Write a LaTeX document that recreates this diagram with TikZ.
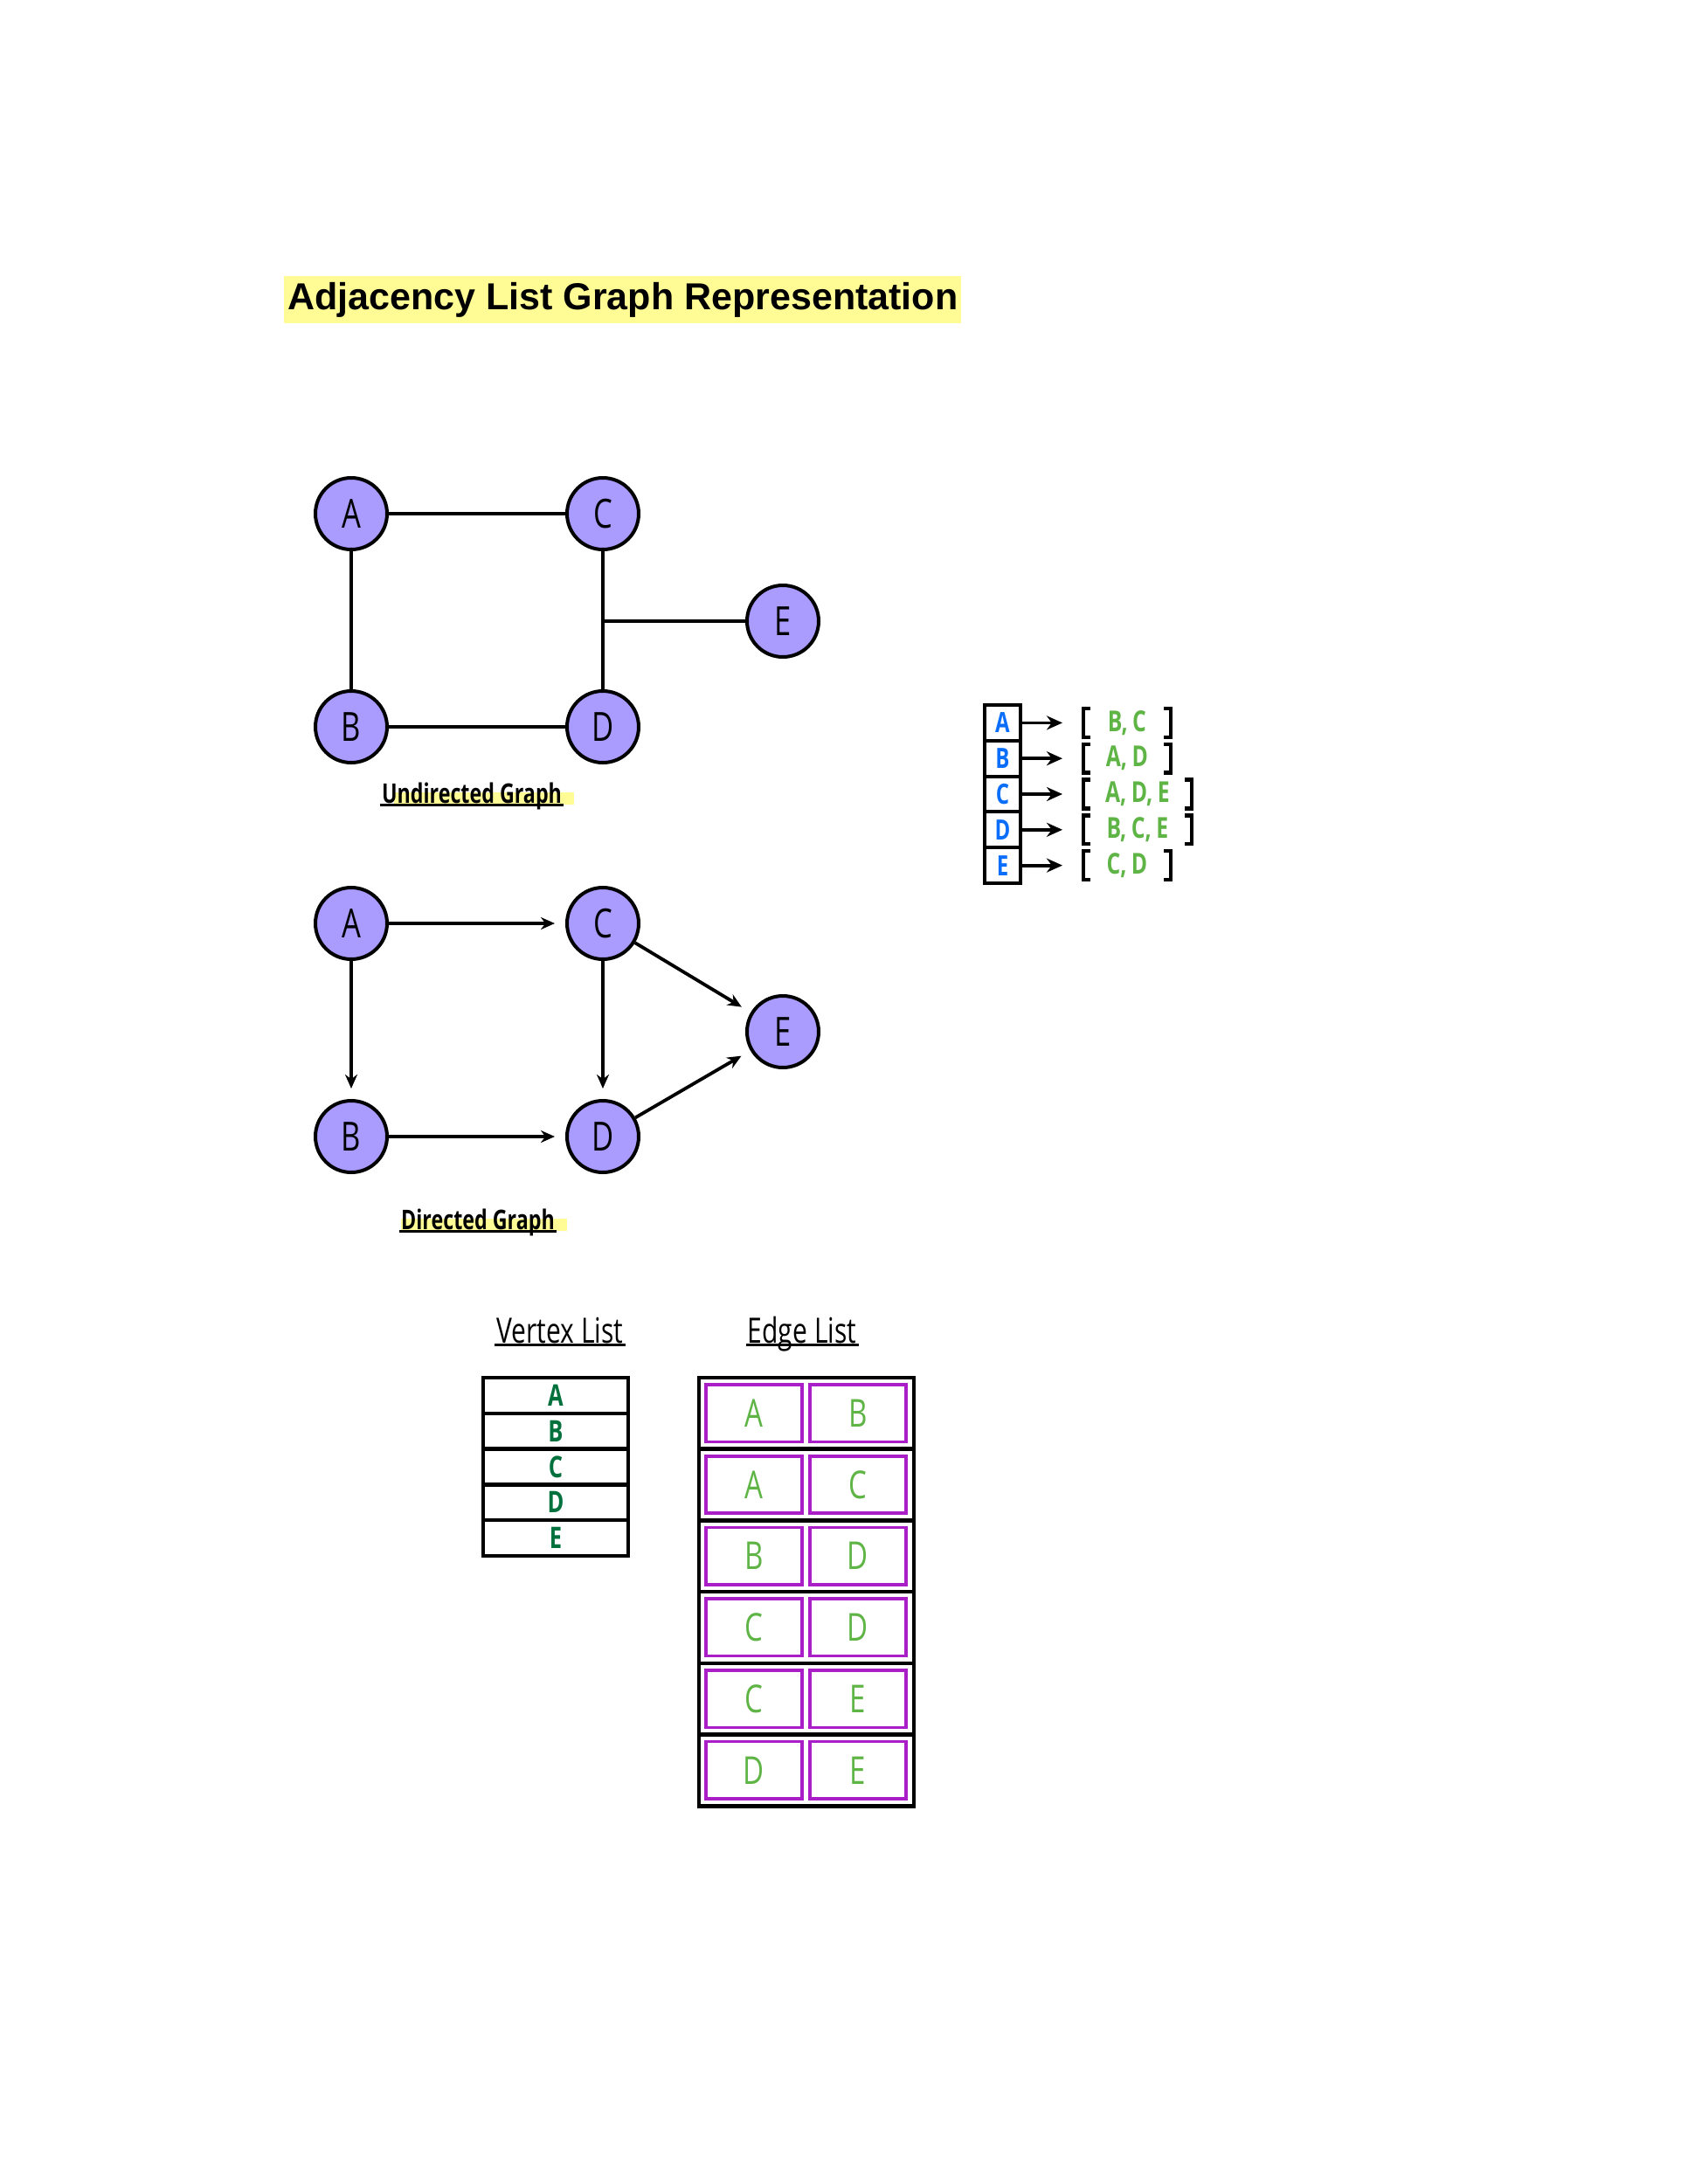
\documentclass[tikz,border=0pt]{standalone}
\usepackage{fontspec}
\usepackage{tikz}
\usetikzlibrary{positioning,arrows.meta,backgrounds}

\newfontfamily\handfont[FakeStretch=0.75]{Open Sans}
\newfontfamily\headfont{Liberation Sans}

\definecolor{vfill}{RGB}{170,156,255}
\definecolor{hlyellow}{RGB}{255,252,150}
\definecolor{adjblue}{RGB}{10,110,250}
\definecolor{lgreen}{RGB}{95,180,70}
\definecolor{dgreen}{RGB}{0,112,60}
\definecolor{epurple}{RGB}{170,30,200}

\begin{document}
\begin{tikzpicture}[x=1pt, y=1pt, node distance = 122pt and 144pt, on grid,
   >={Stealth[length=8pt,width=7pt]},
   vert/.style = {circle, draw, line width=2pt, fill=vfill, minimum size=41pt, inner sep=0pt,
                  font=\handfont\fontsize{23}{23}\selectfont},
   edgeline/.style = {line width=1.9pt},
   arc/.style = {->, line width=1.9pt, shorten >=6pt},
   glabel/.style = {font=\handfont\bfseries\fontsize{15.5}{15.5}\selectfont, inner sep=1pt,
                    text depth=0pt, anchor=base},
   stitle/.style = {font=\handfont\fontsize{20}{20}\selectfont, inner sep=1pt,
                    text depth=0pt, anchor=base},
   uline/.style = {line width=1.6pt},
   adjcell/.style = {draw, line width=2pt, minimum width=20.5pt, minimum height=20.4pt,
                     inner sep=0pt, text=adjblue, font=\handfont\bfseries\fontsize{16}{16}\selectfont},
   adjlist/.style = {anchor=west, minimum height=16pt, inner sep=0pt, text=lgreen,
                     font=\handfont\bfseries\fontsize{16.5}{16.5}\selectfont},
   brk/.style = {line width=2.2pt},
   lstarrow/.style = {->, line width=1.9pt, shorten >=12pt, >={Stealth[length=9pt,width=8pt]}},
   vcell/.style = {draw, line width=2.2pt, minimum width=83pt, minimum height=20.4pt,
                   inner sep=0pt, text=dgreen, font=\handfont\bfseries\fontsize{17}{17}\selectfont},
   erow/.style = {draw, line width=2.3pt, minimum width=123pt, minimum height=40.85pt, inner sep=0pt},
   epart/.style = {draw=epurple, line width=1.8pt, minimum width=55pt, minimum height=32.7pt,
                   inner sep=0pt, text=lgreen, font=\handfont\fontsize{22}{22}\selectfont}]
   \useasboundingbox (0,0) rectangle (966,-1250);

   % title
   \node[anchor=west, fill=hlyellow, inner xsep=2pt, minimum height=27pt,
         font=\headfont\bfseries\fontsize{21.5}{21.5}\selectfont] (title) at (162.5,-171.5)
         {Adjacency List Graph Representation};

   % undirected graph
   \node[vert] (u_A) at (201,-294) {A};
   \node[vert] (u_C) [right = of u_A] {C};
   \node[vert] (u_B) [below = of u_A] {B};
   \node[vert] (u_D) [right = of u_B] {D};
   \node[vert] (u_E) [below right = 61.5pt and 103pt of u_C] {E};
   \coordinate (u_J) at (u_C |- u_E);
   \path[edgeline]
    (u_A) edge (u_C)
          edge (u_B)
    (u_B) edge (u_D)
    (u_C) edge (u_D)
    (u_E) edge (u_J);
   \node[glabel] (u_lbl) at (270,-459.5) {Undirected Graph};
   \draw[uline] (u_lbl.south west) -- (u_lbl.south east);

   % directed graph
   \node[vert] (d_A) [below = 234.5pt of u_A] {A};
   \node[vert] (d_C) [right = of d_A] {C};
   \node[vert] (d_B) [below = of d_A] {B};
   \node[vert] (d_D) [right = of d_B] {D};
   \node[vert] (d_E) [below right = 62pt and 103pt of d_C] {E};
   \path[arc]
    (d_A) edge (d_C)
          edge (d_B)
    (d_B) edge (d_D)
    (d_C) edge (d_D)
          edge (d_E)
    (d_D) edge (d_E);
   \node[glabel] (d_lbl) at (273.5,-703.5) {Directed Graph};
   \draw[uline] (d_lbl.south west) -- (d_lbl.south east);

   \begin{scope}[on background layer]
     \fill[hlyellow] ([xshift=8pt]u_lbl.west) rectangle ([xshift=6pt]u_lbl.south east);
     \fill[hlyellow] ([xshift=1pt]d_lbl.west) rectangle ([xshift=6pt]d_lbl.south east);
   \end{scope}

   % adjacency list
   \foreach \v/\adj/\w [count=\i] in {A/{B,\,C}/49.5, B/{A,\,D}/49.5, C/{A,\,D,\,E}/61.5,
                                      D/{B,\,C,\,E}/61.5, E/{C,\,D}/49.5} {
     \node[adjcell] (a_\v) at (573.75,-393.3-20.4*\i) {\v};
     \node[adjlist, minimum width=\w pt] (l_\v) at (620,-393.3-20.4*\i) {\adj};
     \draw[lstarrow] (a_\v) -- (l_\v);
     \draw[brk] ([xshift=4pt]l_\v.north west) -- (l_\v.north west)
                -- (l_\v.south west) -- ([xshift=4pt]l_\v.south west);
     \draw[brk] ([xshift=-4pt]l_\v.north east) -- (l_\v.north east)
                -- (l_\v.south east) -- ([xshift=-4pt]l_\v.south east);
   }

   % vertex list
   \node[stitle] (v_ttl) at (320.5,-768.5) {Vertex List};
   \draw[uline] (v_ttl.south west) -- (v_ttl.south east);
   \foreach \v [count=\i] in {A,B,C,D,E}
     \node[vcell] (v_\v) at (318,-778.3-20.4*\i) {\v};

   % edge list
   \node[stitle] (e_ttl) at (459,-768.5) {Edge List};
   \draw[uline] (e_ttl.south west) -- (e_ttl.south east);
   \foreach \p/\q [count=\i] in {A/B, A/C, B/D, C/D, C/E, D/E} {
     \node[erow] (e_\i) at (461.5,-768.075-40.85*\i) {};
     \node[epart] (e_\i_l) [left = 30pt of e_\i] {\p};
     \node[epart] (e_\i_r) [right = 29.5pt of e_\i] {\q};
   }
\end{tikzpicture}
\end{document}
